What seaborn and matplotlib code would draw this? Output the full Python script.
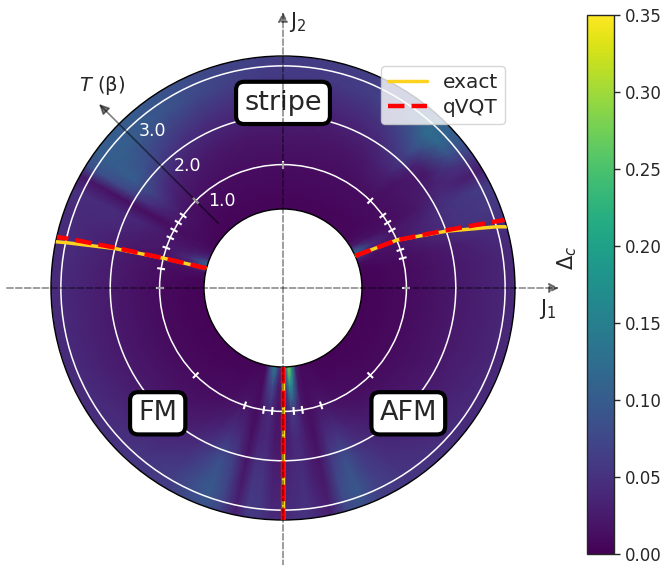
import numpy as np
import matplotlib
matplotlib.use("Agg")
import matplotlib.pyplot as plt
from matplotlib.lines import Line2D
import seaborn as sns

sns.set_style("white")
plt.rcParams["font.family"] = ["DejaVu Sans"]
plt.rcParams["mathtext.fontset"] = "dejavusans"

# ---------------- data ----------------
T_NODES = [0.1, 0.5, 1.0, 1.6, 2.2, 2.8, 3.2]
ANGLES_DEG = [0, 8, 14, 18, 21, 24, 27, 31, 35, 39, 43, 47, 52, 58, 66, 75, 85, 95,
              105, 115, 124, 132, 139, 144, 148, 151, 155, 159, 162, 165, 169, 174,
              182, 192, 202, 212, 222, 232, 240, 246, 250, 254, 258, 261, 264, 267,
              270, 272, 274, 276, 279, 282, 286, 290, 295, 302, 312, 322, 332, 342, 352]
DELTA_C = [
    [0.004, 0.006, 0.010, 0.017, 0.025, 0.033, 0.040],  # 0
    [0.004, 0.006, 0.010, 0.017, 0.025, 0.034, 0.040],  # 8
    [0.005, 0.008, 0.012, 0.020, 0.030, 0.040, 0.045],  # 14
    [0.010, 0.012, 0.016, 0.030, 0.045, 0.050, 0.050],  # 18
    [0.030, 0.016, 0.018, 0.035, 0.050, 0.055, 0.055],  # 21
    [0.090, 0.030, 0.020, 0.035, 0.050, 0.055, 0.060],  # 24
    [0.120, 0.040, 0.020, 0.030, 0.050, 0.060, 0.060],  # 27
    [0.030, 0.015, 0.012, 0.020, 0.040, 0.030, 0.028],  # 31
    [0.010, 0.010, 0.012, 0.020, 0.030, 0.050, 0.060],  # 35
    [0.006, 0.008, 0.012, 0.020, 0.022, 0.090, 0.090],  # 39
    [0.006, 0.008, 0.012, 0.018, 0.035, 0.115, 0.105],  # 43
    [0.006, 0.008, 0.012, 0.030, 0.070, 0.125, 0.105],  # 47
    [0.006, 0.008, 0.012, 0.030, 0.060, 0.095, 0.088],  # 52
    [0.005, 0.008, 0.012, 0.022, 0.045, 0.072, 0.072],  # 58
    [0.005, 0.008, 0.012, 0.020, 0.038, 0.062, 0.065],  # 66
    [0.005, 0.008, 0.012, 0.020, 0.035, 0.058, 0.062],  # 75
    [0.005, 0.008, 0.012, 0.020, 0.035, 0.058, 0.062],  # 85
    [0.005, 0.008, 0.012, 0.020, 0.036, 0.060, 0.065],  # 95
    [0.005, 0.008, 0.012, 0.020, 0.040, 0.068, 0.072],  # 105
    [0.005, 0.008, 0.012, 0.022, 0.045, 0.078, 0.082],  # 115
    [0.005, 0.008, 0.013, 0.025, 0.052, 0.090, 0.092],  # 124
    [0.005, 0.008, 0.014, 0.030, 0.065, 0.098, 0.098],  # 132
    [0.005, 0.009, 0.016, 0.040, 0.085, 0.105, 0.100],  # 139
    [0.005, 0.010, 0.020, 0.055, 0.100, 0.105, 0.100],  # 144
    [0.006, 0.010, 0.020, 0.040, 0.070, 0.085, 0.085],  # 148
    [0.010, 0.012, 0.012, 0.013, 0.015, 0.018, 0.022],  # 151
    [0.020, 0.015, 0.020, 0.035, 0.042, 0.045, 0.050],  # 155
    [0.050, 0.025, 0.020, 0.030, 0.040, 0.042, 0.045],  # 159
    [0.110, 0.040, 0.020, 0.025, 0.035, 0.040, 0.045],  # 162
    [0.080, 0.030, 0.018, 0.022, 0.032, 0.040, 0.045],  # 165
    [0.015, 0.012, 0.014, 0.022, 0.032, 0.042, 0.046],  # 169
    [0.005, 0.008, 0.012, 0.020, 0.030, 0.040, 0.044],  # 174
    [0.004, 0.006, 0.010, 0.018, 0.028, 0.038, 0.044],  # 182
    [0.004, 0.006, 0.010, 0.018, 0.027, 0.037, 0.043],  # 192
    [0.004, 0.006, 0.010, 0.018, 0.027, 0.038, 0.044],  # 202
    [0.004, 0.006, 0.010, 0.018, 0.028, 0.040, 0.046],  # 212
    [0.004, 0.006, 0.010, 0.018, 0.030, 0.045, 0.050],  # 222
    [0.004, 0.006, 0.010, 0.020, 0.035, 0.052, 0.055],  # 232
    [0.004, 0.007, 0.012, 0.025, 0.045, 0.062, 0.062],  # 240
    [0.005, 0.008, 0.014, 0.035, 0.065, 0.085, 0.080],  # 246
    [0.005, 0.010, 0.020, 0.048, 0.085, 0.098, 0.090],  # 250
    [0.006, 0.012, 0.020, 0.040, 0.065, 0.075, 0.070],  # 254
    [0.010, 0.010, 0.010, 0.015, 0.020, 0.025, 0.030],  # 258
    [0.080, 0.050, 0.030, 0.035, 0.050, 0.060, 0.060],  # 261
    [0.150, 0.080, 0.040, 0.040, 0.050, 0.055, 0.055],  # 264
    [0.060, 0.030, 0.020, 0.022, 0.030, 0.035, 0.040],  # 267
    [0.030, 0.020, 0.015, 0.020, 0.028, 0.035, 0.040],  # 270
    [0.120, 0.070, 0.030, 0.030, 0.038, 0.042, 0.045],  # 272
    [0.280, 0.180, 0.060, 0.040, 0.042, 0.045, 0.050],  # 274
    [0.200, 0.120, 0.050, 0.040, 0.045, 0.050, 0.050],  # 276
    [0.030, 0.020, 0.020, 0.025, 0.030, 0.035, 0.040],  # 279
    [0.010, 0.010, 0.012, 0.015, 0.020, 0.025, 0.030],  # 282
    [0.008, 0.012, 0.020, 0.040, 0.065, 0.080, 0.075],  # 286
    [0.006, 0.010, 0.020, 0.048, 0.085, 0.095, 0.085],  # 290
    [0.005, 0.008, 0.015, 0.035, 0.058, 0.068, 0.065],  # 295
    [0.004, 0.007, 0.012, 0.025, 0.040, 0.052, 0.055],  # 302
    [0.004, 0.006, 0.010, 0.020, 0.032, 0.045, 0.050],  # 312
    [0.004, 0.006, 0.010, 0.018, 0.028, 0.040, 0.045],  # 322
    [0.004, 0.006, 0.010, 0.017, 0.026, 0.036, 0.042],  # 332
    [0.004, 0.006, 0.010, 0.017, 0.025, 0.034, 0.040],  # 342
    [0.004, 0.006, 0.010, 0.017, 0.025, 0.033, 0.040],  # 352
]

# phase boundaries: angle (deg) vs T
T_BOUND = [0.1, 1.0, 2.0, 3.0, 3.2]
EXACT_LEFT = [165.6, 166.0, 166.8, 168.2, 168.5]
QVQT_LEFT = [165.6, 166.0, 166.5, 167.1, 167.3]
EXACT_RIGHT = [24.0, 22.8, 19.2, 16.0, 15.3]
QVQT_RIGHT = [24.0, 22.8, 19.5, 17.4, 17.1]
EXACT_BOTTOM = [270.0, 270.0, 270.0, 270.0, 270.0]
QVQT_BOTTOM = [270.0, 270.0, 270.0, 270.0, 270.0]

# sampled coupling angles marked on the T = 1 circle
SAMPLE_ANGLES = [0, 14, 18, 23, 28, 32, 36, 45, 90, 135, 144, 148, 152, 156, 161,
                 166, 171, 180, 225, 252, 261, 265, 270, 275, 279, 288, 315]
SAMPLE_T = 1.0

R_TICKS = [1.0, 2.0, 3.0]
R_TICK_LABELS = ["1.0", "2.0", "3.0"]
CBAR_TICKS = [0.0, 0.05, 0.10, 0.15, 0.20, 0.25, 0.30, 0.35]
PHASES = ["stripe", "FM", "AFM"]
PHASE_POS = [(90, 2.25), (225, 2.09), (315, 2.09)]

# ---------------- figure ----------------
fig = plt.figure(figsize=(6.65, 5.65), dpi=100)
ax = fig.add_axes([51 / 665, 45 / 565, 464 / 665, 464 / 565], projection="polar")
cax = fig.add_axes([587 / 665, 11 / 565, 27 / 665, 539 / 565])

cmap = sns.color_palette("viridis", as_cmap=True)
th = np.deg2rad(np.array(ANGLES_DEG + [360]))
C = np.array(DELTA_C + [DELTA_C[0]])
TH, RR = np.meshgrid(th, np.array(T_NODES), indexing="ij")
mesh = ax.pcolormesh(TH, RR, C, shading="gouraud", cmap=cmap, vmin=0, vmax=0.35, zorder=1)

ax.set_rorigin(-1.5)
ax.set_ylim(0.1, 3.2)
ax.set_xticks([])
ax.set_yticks(R_TICKS)
ax.set_yticklabels([])
ax.tick_params(axis="y", length=0)
ax.yaxis.grid(True, color="white", lw=1.1)
ax.xaxis.grid(False)
ax.set_axisbelow(False)
for name in ("polar", "inner"):
    if name in ax.spines:
        ax.spines[name].set_color("black")
        ax.spines[name].set_linewidth(1.0)

# radial tick labels along the T arrow
for r, lab in zip(R_TICKS, R_TICK_LABELS):
    ax.annotate(lab, xy=(np.deg2rad(135), r), xytext=(9, 0), textcoords="offset points",
                color="white", fontsize=12.5, ha="left", va="center", zorder=6)

# sample markers on T=1 circle
for a in SAMPLE_ANGLES:
    t = np.deg2rad(a)
    ax.plot([t, t], [SAMPLE_T - 0.08, SAMPLE_T + 0.08], color="white", lw=1.5,
            solid_capstyle="butt", zorder=4)

# phase boundaries
tb = np.array(T_BOUND)
for arr in [EXACT_LEFT, EXACT_RIGHT, EXACT_BOTTOM]:
    ax.plot(np.deg2rad(arr), tb, color="#FFD21F", lw=2.5, zorder=5)
for arr in [QVQT_LEFT, QVQT_RIGHT, QVQT_BOTTOM]:
    ax.plot(np.deg2rad(arr), tb, color="#FF0000", lw=3.2, ls="--", zorder=5.5)

# phase labels
for txt, (a, r) in zip(PHASES, PHASE_POS):
    ax.text(np.deg2rad(a), r, txt, ha="center", va="center", fontsize=19.5, zorder=7,
            bbox=dict(boxstyle="round,pad=0.3", fc="white", ec="black", lw=3))

# T arrow
ax.annotate("", xy=(np.deg2rad(135), 3.77), xytext=(np.deg2rad(135), 0.36),
            arrowprops=dict(arrowstyle="-|>", color="black", alpha=0.5, lw=1.2,
                            shrinkA=0, shrinkB=0, mutation_scale=15),
            annotation_clip=False, zorder=8)
ax.text(0.11, 0.937, r"$T$ (β)", transform=ax.transAxes, fontsize=14,
        ha="center", va="center")

# J1 / J2 axes
ax.annotate("", xy=(1.095, 0.5), xytext=(-0.095, 0.5), xycoords="axes fraction",
            arrowprops=dict(arrowstyle="-|>", ls="--", color="black", alpha=0.45, lw=1.2,
                            shrinkA=0, shrinkB=0, mutation_scale=15),
            annotation_clip=False, zorder=9)
ax.annotate("", xy=(0.5, 1.095), xytext=(0.5, -0.1), xycoords="axes fraction",
            arrowprops=dict(arrowstyle="-|>", ls="--", color="black", alpha=0.45, lw=1.2,
                            shrinkA=0, shrinkB=0, mutation_scale=15),
            annotation_clip=False, zorder=9)
ax.text(0.513, 1.073, r"J$_2$", transform=ax.transAxes, fontsize=15, ha="left", va="center")
ax.text(1.052, 0.455, r"J$_1$", transform=ax.transAxes, fontsize=15, ha="left", va="center")

# legend
handles = [Line2D([0], [0], color="#FFD21F", lw=2.5, label="exact"),
           Line2D([0], [0], color="#FF0000", lw=3.2, ls="--", label="qVQT")]
ax.legend(handles=handles, loc="upper right", fontsize=14.5, handlelength=1.9,
          borderpad=0.35, labelspacing=0.3, handletextpad=0.8)

# colorbar
cbar = fig.colorbar(mesh, cax=cax, ticks=CBAR_TICKS)
cbar.ax.set_yticklabels([f"{t:.2f}" for t in CBAR_TICKS])
cbar.ax.tick_params(right=True, length=4, width=1, labelsize=12)
cbar.ax.yaxis.set_label_position("left")
cbar.ax.set_ylabel(r"$\Delta_c$", fontsize=15, labelpad=6, y=0.55)
cbar.outline.set_linewidth(1.0)

fig.savefig("out.png", dpi=100)
